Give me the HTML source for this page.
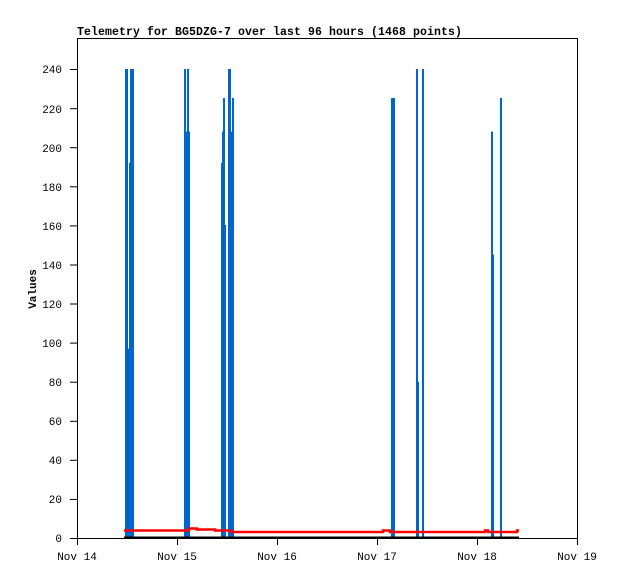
<!DOCTYPE html>
<html><head><style>body{margin:0;background:#fff}</style></head><body>
<svg width="618" height="579" xmlns="http://www.w3.org/2000/svg" font-family="Liberation Mono, monospace" font-size="11">
<rect width="618" height="579" fill="#fff"/>
<text x="77" y="35" font-weight="bold" font-size="11.5" letter-spacing="0.1">Telemetry for BG5DZG-7 over last 96 hours (1468 points)</text>
<g fill="#0066cc">
<rect x="125" y="69" width="3" height="469"/>
<rect x="128" y="348.5" width="1" height="189.5"/>
<rect x="129" y="163" width="1" height="375"/>
<rect x="130" y="69" width="4" height="469"/>
<rect x="184" y="69" width="2" height="469"/>
<rect x="186" y="131.6" width="1" height="406.4"/>
<rect x="187" y="69" width="2" height="469"/>
<rect x="189" y="131.6" width="1" height="406.4"/>
<rect x="221" y="163" width="1" height="375"/>
<rect x="222" y="131.6" width="1" height="406.4"/>
<rect x="223" y="98" width="2" height="440"/>
<rect x="225" y="225" width="1" height="313"/>
<rect x="228" y="69" width="3" height="469"/>
<rect x="231" y="131.6" width="1" height="406.4"/>
<rect x="232" y="98" width="2" height="440"/>
<rect x="391" y="98" width="2" height="440"/>
<rect x="393" y="98" width="2" height="440"/>
<rect x="416" y="69" width="2" height="469"/>
<rect x="418" y="381.7" width="1" height="156.3"/>
<rect x="422" y="69" width="2" height="469"/>
<rect x="491" y="131.6" width="2" height="406.4"/>
<rect x="493" y="254.6" width="1" height="283.4"/>
<rect x="500" y="98" width="2" height="440"/>
</g>
<polyline fill="none" stroke="#ff0000" stroke-width="2.5" points="124,530.5 189,530.5 189,528.5 197,528.5 197,529.5 215,529.5 215,530.5 231,530.5 231,532 383,532 383,530.5 390,530.5 390,532 485,532 485,530.5 488,530.5 488,532 517,532 517,530.5 519,530.5"/>
<line x1="124" y1="537.5" x2="519" y2="537.5" stroke="#000" stroke-width="2"/>
<rect x="77.5" y="38.5" width="500" height="500" fill="none" stroke="#000"/>
<g stroke="#000">
<line x1="70" y1="538.5" x2="77" y2="538.5"/><line x1="70" y1="499.4" x2="77" y2="499.4"/><line x1="70" y1="460.3" x2="77" y2="460.3"/><line x1="70" y1="421.3" x2="77" y2="421.3"/><line x1="70" y1="382.2" x2="77" y2="382.2"/><line x1="70" y1="343.1" x2="77" y2="343.1"/><line x1="70" y1="304" x2="77" y2="304"/><line x1="70" y1="265" x2="77" y2="265"/><line x1="70" y1="225.9" x2="77" y2="225.9"/><line x1="70" y1="186.8" x2="77" y2="186.8"/><line x1="70" y1="147.7" x2="77" y2="147.7"/><line x1="70" y1="108.7" x2="77" y2="108.7"/><line x1="70" y1="69.5" x2="77" y2="69.5"/>
<line x1="77.5" y1="539" x2="77.5" y2="545"/><line x1="177.5" y1="539" x2="177.5" y2="545"/><line x1="277.5" y1="539" x2="277.5" y2="545"/><line x1="377.5" y1="539" x2="377.5" y2="545"/><line x1="477.5" y1="539" x2="477.5" y2="545"/><line x1="577.5" y1="539" x2="577.5" y2="545"/>
</g>
<g text-anchor="end">
<text x="62" y="542">0</text><text x="62" y="503">20</text><text x="62" y="464">40</text><text x="62" y="425">60</text><text x="62" y="386">80</text><text x="62" y="347">100</text><text x="62" y="308">120</text><text x="62" y="269">140</text><text x="62" y="230">160</text><text x="62" y="191">180</text><text x="62" y="152">200</text><text x="62" y="113">220</text><text x="62" y="73">240</text>
</g>
<g text-anchor="middle">
<text x="77" y="560">Nov 14</text><text x="177" y="560">Nov 15</text><text x="277" y="560">Nov 16</text><text x="377" y="560">Nov 17</text><text x="477" y="560">Nov 18</text><text x="577" y="560">Nov 19</text>
</g>
<text transform="translate(36,289) rotate(-90)" text-anchor="middle" font-weight="bold">Values</text>
</svg>
</body></html>
